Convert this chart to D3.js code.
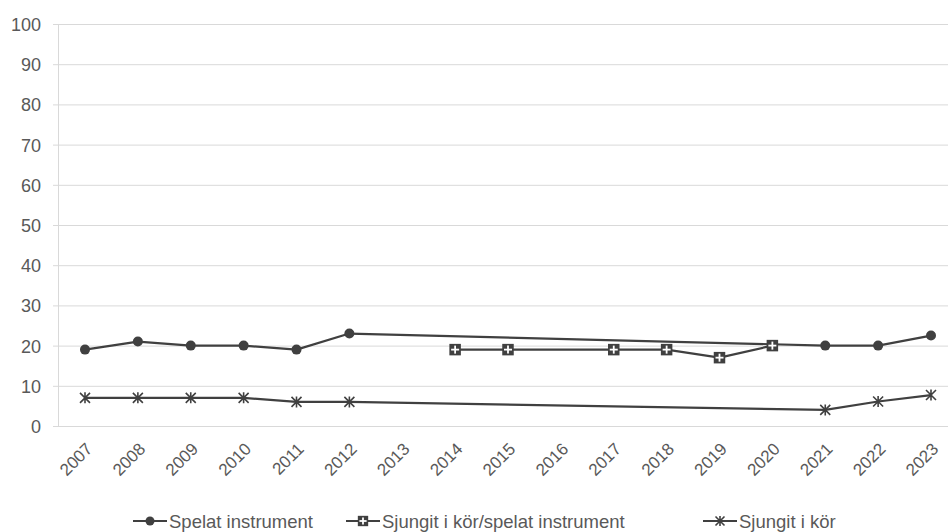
<!DOCTYPE html>
<html>
<head>
<meta charset="utf-8">
<script src="https://cdn.jsdelivr.net/npm/d3@7"></script>
<style>
  html, body { margin: 0; padding: 0; background: #fff; }
  svg { display: block; font-family: "Liberation Sans", Arial, sans-serif; }
</style>
</head>
<body>
<svg id="chart" width="948" height="532"></svg>
<script>
const years = ["2007","2008","2009","2010","2011","2012","2013","2014","2015","2016","2017","2018","2019","2020","2021","2022","2023"];
const spelatInstrument = [19, 21, 20, 20, 19, 23, null, null, null, null, null, null, null, null, 20, 20, 22.5];
const sjungitSpelat   = [null, null, null, null, null, null, null, 19, 19, null, 19, 19, 17, 20, null, null, null];
const sjungitIKor     = [7, 7, 7, 7, 6, 6, null, null, null, null, null, null, null, null, 4, 6.1, 7.7];
const yTicks = [0, 10, 20, 30, 40, 50, 60, 70, 80, 90, 100];
const seriesNames = ["Spelat instrument", "Sjungit i kör/spelat instrument", "Sjungit i kör"];

(function () {
const svg = d3.select("#chart");
const col = "#404040";
const textCol = "#595959";
const font = "'Liberation Sans', Arial, sans-serif";
const plotLeft = 58, plotTop = 24, plotBottom = 426;
const x = d3.scalePoint().domain(years).range([85, 931]);
const y = d3.scaleLinear().domain([0, 100]).range([plotBottom, plotTop]);

// gridlines
svg.append("g").selectAll("line").data(yTicks).join("line")
  .attr("x1", plotLeft - 5).attr("x2", 948)
  .attr("y1", d => y(d) + 0.5).attr("y2", d => y(d) + 0.5)
  .attr("stroke", "#d9d9d9").attr("stroke-width", 1);
// vertical axis line
svg.append("line").attr("x1", plotLeft + 0.5).attr("x2", plotLeft + 0.5).attr("y1", plotTop).attr("y2", plotBottom)
  .attr("stroke", "#d9d9d9").attr("stroke-width", 1);

// y axis labels
const yAxis = d3.axisLeft(y).tickValues(yTicks).tickSize(0).tickPadding(0);
const ya = svg.append("g").attr("transform", `translate(41,0)`).call(yAxis);
ya.select(".domain").remove();
ya.selectAll("text").attr("fill", textCol).attr("font-size", 18)
  .attr("font-family", font).attr("dy", "0.36em");

// x axis labels
const xAxis = d3.axisBottom(x).tickSize(0).tickPadding(0);
const xa = svg.append("g").attr("transform", `translate(0,${plotBottom})`).call(xAxis);
xa.select(".domain").remove();
xa.selectAll("text")
  .attr("fill", textCol).attr("font-size", 17)
  .attr("font-family", font)
  .attr("text-anchor", "end").attr("dy", null).attr("y", 0)
  .attr("transform", "translate(8,24) rotate(-45)");

function drawLine(vals) {
  const pts = years.map((yr, i) => [yr, vals[i]]).filter(d => d[1] !== null);
  const line = d3.line().x(d => x(d[0])).y(d => y(d[1]));
  svg.append("path").datum(pts).attr("d", line)
    .attr("fill", "none").attr("stroke", col).attr("stroke-width", 2.2)
    .attr("stroke-linejoin", "round");
  return pts;
}

function circleMarker(g, cx, cy, k) {
  g.append("circle").attr("cx", cx).attr("cy", cy).attr("r", 5 * k).attr("fill", col);
}
function squareMarker(g, cx, cy, k) {
  const s = 11.5 * k, c = 4 * k;
  g.append("rect").attr("x", cx - s/2).attr("y", cy - s/2).attr("width", s).attr("height", s)
    .attr("fill", col);
  g.append("line").attr("x1", cx - c).attr("x2", cx + c).attr("y1", cy).attr("y2", cy)
    .attr("stroke", "#fff").attr("stroke-width", 1.8);
  g.append("line").attr("x1", cx).attr("x2", cx).attr("y1", cy - c).attr("y2", cy + c)
    .attr("stroke", "#fff").attr("stroke-width", 1.8);
}
function starMarker(g, cx, cy, k) {
  const r = 5 * k;
  g.append("path")
    .attr("d", `M${cx-r},${cy-r}L${cx+r},${cy+r}M${cx-r},${cy+r}L${cx+r},${cy-r}M${cx},${cy-r-0.5}L${cx},${cy+r+0.5}`)
    .attr("stroke", col).attr("stroke-width", 1.6).attr("fill", "none");
}

const markers = [circleMarker, squareMarker, starMarker];
const allSeries = [spelatInstrument, sjungitSpelat, sjungitIKor];
allSeries.forEach((vals, si) => {
  const pts = drawLine(vals);
  const g = svg.append("g");
  pts.forEach(p => markers[si](g, x(p[0]), y(p[1]), 1));
});

// legend
const legendSym = [133, 346, 703];
const legendLineY = 521;
seriesNames.forEach((name, i) => {
  const g = svg.append("g");
  const lx = legendSym[i];
  g.append("line").attr("x1", lx).attr("x2", lx + 34).attr("y1", legendLineY).attr("y2", legendLineY)
    .attr("stroke", col).attr("stroke-width", 2.2);
  markers[i](g, lx + 17, legendLineY, 0.9);
  g.append("text").attr("x", lx + 36).attr("y", legendLineY + 6.5)
    .attr("fill", textCol).attr("font-size", 18.5)
    .attr("font-family", font)
    .text(name);
});
})();
</script>
</body>
</html>
